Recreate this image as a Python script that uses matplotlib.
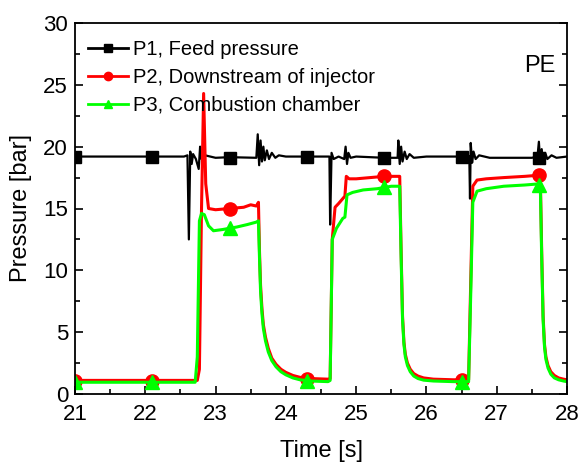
import matplotlib
matplotlib.use("Agg")
import matplotlib.pyplot as plt
from matplotlib.lines import Line2D
from matplotlib.ticker import MultipleLocator

plt.rcParams['font.family'] = ['Liberation Sans', 'DejaVu Sans']

# P1, feed pressure (time [s], pressure [bar])
t_p1 = [21.0, 22.55, 22.60, 22.62, 22.64, 22.66, 22.68, 22.72, 22.76, 22.78, 22.80, 22.85,
        23.0, 23.2, 23.58, 23.60, 23.62, 23.64, 23.66, 23.68, 23.70, 23.73, 23.76, 23.80,
        23.85, 23.90, 24.0, 24.3, 24.62, 24.63, 24.65, 24.68, 24.75, 24.83, 24.85, 24.87,
        24.89, 24.92, 25.0, 25.4, 25.59, 25.60, 25.62, 25.64, 25.66, 25.69, 25.72, 25.76,
        25.82, 26.0, 26.5, 26.61, 26.62, 26.63, 26.65, 26.67, 26.70, 26.75, 26.9, 27.5,
        27.58, 27.60, 27.62, 27.64, 27.66, 27.69, 27.72, 27.78, 27.85, 28.0]
p1 = [19.2, 19.2, 19.3, 12.5, 19.6, 18.6, 19.4, 19.0, 18.2, 20.0, 19.0, 19.3,
      19.1, 19.15, 19.1, 21.0, 18.5, 20.5, 18.8, 20.0, 18.9, 19.7, 19.0, 19.5,
      19.1, 19.3, 19.2, 19.2, 19.2, 13.7, 19.5, 19.0, 19.2, 19.0, 20.0, 18.6,
      19.5, 19.1, 19.2, 19.1, 19.1, 20.5, 18.6, 20.0, 18.8, 19.6, 19.0, 19.4,
      19.1, 19.2, 19.2, 19.2, 15.8, 20.3, 18.7, 19.6, 19.0, 19.3, 19.1, 19.1,
      19.2, 20.4, 18.6, 19.8, 18.8, 19.5, 19.0, 19.3, 19.1, 19.2]

# P2, downstream of injector
t_p2 = [21.0, 22.74, 22.77, 22.80, 22.83, 22.86, 22.90, 23.0, 23.2, 23.4, 23.5, 23.58,
        23.61, 23.625, 23.64, 23.66, 23.68, 23.71, 23.75, 23.80, 23.86, 23.93, 24.0, 24.1,
        24.2, 24.35, 24.6,
        24.63, 24.66, 24.70, 24.75, 24.81, 24.84, 24.86, 24.90, 25.0, 25.2, 25.4, 25.6,
        25.62, 25.64, 25.66, 25.68, 25.70, 25.73, 25.77, 25.82, 25.88, 25.96, 26.1, 26.38,
        26.6, 26.63, 26.66, 26.72, 26.85, 27.1, 27.4, 27.62,
        27.64, 27.66, 27.68, 27.70, 27.73, 27.77, 27.82, 27.88, 27.95, 28.0]
p2 = [1.1, 1.1, 2.0, 15.0, 24.3, 17.0, 15.0, 14.9, 15.0, 15.1, 15.3, 15.2,
      15.5, 11.5, 8.8, 6.9, 5.6, 4.6, 3.7, 2.9, 2.4, 2.0, 1.75, 1.5,
      1.35, 1.25, 1.2,
      1.25, 12.5, 15.1, 15.4, 15.8, 16.0, 17.6, 17.4, 17.4, 17.5, 17.6, 17.6,
      17.6, 11.5, 6.3, 4.2, 3.2, 2.5, 2.0, 1.65, 1.45, 1.3, 1.2, 1.15,
      1.15, 9.0, 16.8, 17.3, 17.4, 17.5, 17.6, 17.7,
      11.5, 6.3, 4.0, 3.0, 2.3, 1.8, 1.5, 1.3, 1.2, 1.15]

# P3, combustion chamber
t_p3 = [21.0, 22.71, 22.74, 22.77, 22.80, 22.84, 22.90, 22.97, 23.1, 23.3, 23.45, 23.58,
        23.61, 23.625, 23.64, 23.66, 23.68, 23.71, 23.75, 23.80, 23.86, 23.93, 24.0, 24.1,
        24.2, 24.35, 24.6,
        24.63, 24.66, 24.72, 24.81, 24.84, 24.87, 24.95, 25.1, 25.3, 25.5, 25.62,
        25.64, 25.66, 25.68, 25.70, 25.73, 25.77, 25.82, 25.88, 25.96, 26.1, 26.38,
        26.6, 26.63, 26.66, 26.72, 26.85, 27.1, 27.4, 27.62,
        27.64, 27.66, 27.68, 27.70, 27.73, 27.77, 27.82, 27.88, 27.95, 28.0]
p3 = [0.95, 0.95, 3.0, 14.0, 14.6, 14.5, 13.6, 13.2, 13.3, 13.5, 13.7, 13.9,
      14.0, 11.0, 8.3, 6.5, 5.3, 4.3, 3.4, 2.7, 2.2, 1.8, 1.55, 1.3,
      1.15, 1.05, 1.0,
      1.1, 12.5, 13.4, 14.2, 14.3, 16.1, 16.3, 16.5, 16.6, 16.8, 16.8,
      11.0, 6.0, 4.0, 3.0, 2.3, 1.8, 1.45, 1.25, 1.12, 1.05, 1.0,
      1.0, 8.0, 15.5, 16.4, 16.6, 16.8, 16.9, 17.0,
      11.0, 6.0, 3.8, 2.8, 2.1, 1.6, 1.3, 1.15, 1.05, 1.0]

# marker positions
t_mk = [21.0, 22.1, 23.2, 24.3, 25.4, 26.5, 27.6]
p1_mk = [19.2, 19.2, 19.1, 19.2, 19.1, 19.2, 19.1]
p2_mk = [1.05, 1.05, 15.0, 1.2, 17.6, 1.15, 17.7]
p3_mk = [0.95, 0.95, 13.4, 1.05, 16.7, 1.0, 16.9]

labels = ['P1, Feed pressure', 'P2, Downstream of injector', 'P3, Combustion chamber']
colors = ['black', '#ff0000', '#00ff00']
markers = ['s', 'o', '^']

fig = plt.figure(figsize=(5.81, 4.67), dpi=100)
ax = fig.add_axes([75/581, 1-394/467, 492/581, 371/467])

ax.plot(t_p1, p1, color=colors[0], lw=1.6)
ax.plot(t_mk, p1_mk, ls='none', marker='s', ms=8.5, color=colors[0])
ax.plot(t_p2, p2, color=colors[1], lw=2.2)
ax.plot(t_mk, p2_mk, ls='none', marker='o', ms=9.5, color=colors[1])
ax.plot(t_p3, p3, color=colors[2], lw=2.2)
ax.plot(t_mk, p3_mk, ls='none', marker='^', ms=10.5, color=colors[2])

ax.set_xlim(21, 28)
ax.set_ylim(0, 30)
ax.xaxis.set_major_locator(MultipleLocator(1))
ax.xaxis.set_minor_locator(MultipleLocator(0.5))
ax.yaxis.set_major_locator(MultipleLocator(5))
ax.yaxis.set_minor_locator(MultipleLocator(2.5))
ax.tick_params(which='both', direction='in', right=True, top=False, labelsize=16, width=1.2)
ax.tick_params(which='major', length=6, pad=5)
ax.tick_params(axis='x', which='major', pad=7)
ax.tick_params(which='minor', length=3.5)
for s in ax.spines.values():
    s.set_linewidth(1.3)

ax.set_xlabel('Time [s]', fontsize=17, labelpad=11)
ax.set_ylabel('Pressure [bar]', fontsize=17, labelpad=8)

handles = [Line2D([], [], color=c, marker=m, lw=2, ms=6) for c, m in zip(colors, markers)]
ax.legend(handles, labels, loc='upper left', bbox_to_anchor=(0.026, 0.955), frameon=False,
          fontsize=14.5, handlelength=2.0, handletextpad=0.25, labelspacing=0.45,
          borderpad=0, borderaxespad=0)

ax.text(0.945, 0.885, 'PE', transform=ax.transAxes, fontsize=17, ha='center', va='center')

fig.savefig('out.png', dpi=100)
